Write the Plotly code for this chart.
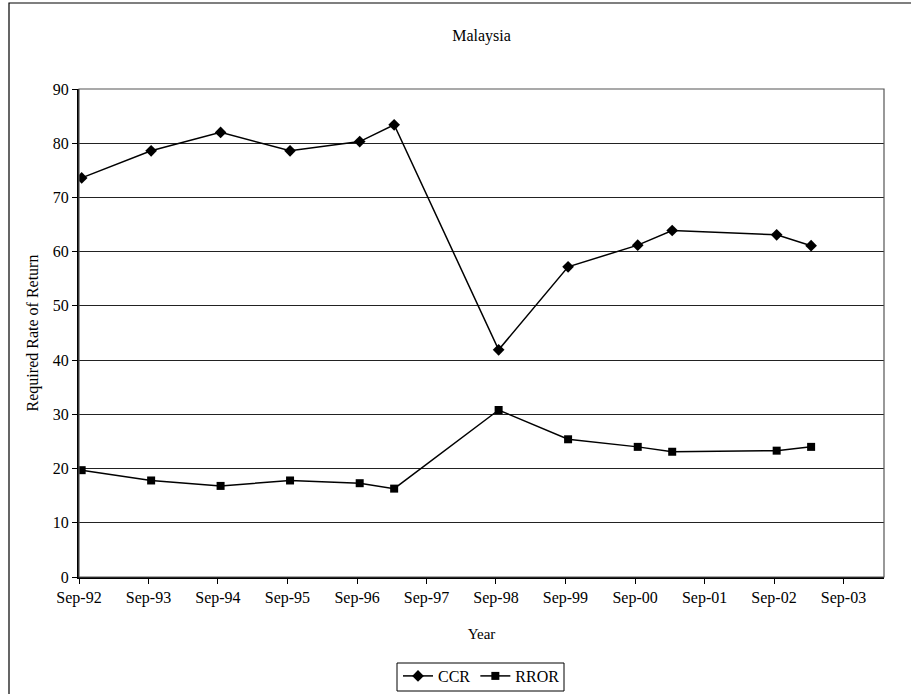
import plotly.graph_objects as go

# Observation dates (mid-month) and series values
dates = ["1992-09-15", "1993-09-15", "1994-09-15", "1995-09-15", "1996-09-15",
         "1997-03-15", "1998-09-15", "1999-09-15", "2000-09-15", "2001-03-15",
         "2002-09-15", "2003-03-15"]
ccr = [73.6, 78.6, 82.0, 78.6, 80.3, 83.4, 41.9, 57.2, 61.2, 63.9, 63.1, 61.1]
rror = [19.7, 17.8, 16.8, 17.8, 17.3, 16.3, 30.8, 25.4, 24.0, 23.1, 23.3, 24.0]

FONT = "Liberation Serif"

fig = go.Figure()
fig.add_trace(go.Scatter(
    x=dates, y=ccr, name="CCR", mode="lines+markers",
    line=dict(color="black", width=1.5),
    marker=dict(symbol="diamond", size=9, color="black"),
))
fig.add_trace(go.Scatter(
    x=dates, y=rror, name="RROR", mode="lines+markers",
    line=dict(color="black", width=1.5),
    marker=dict(symbol="square", size=8, color="black"),
))

# plot area in pixels: left 79, right 884, top 89, bottom 577
L, R, T, B = 79, 884, 89, 577
W, H = 911, 694
pw, ph = R - L, B - T


def px(x):
    return (x - L) / pw


def py(y):
    return (B - y) / ph


fig.update_layout(
    width=W, height=H,
    margin=dict(l=L, r=W - R, t=T, b=H - B, pad=0, autoexpand=False),
    paper_bgcolor="white", plot_bgcolor="white",
    font=dict(family=FONT, size=16, color="black"),
    title=dict(text="Malaysia", x=0.5, xref="paper", xanchor="center",
               y=1 - 35 / H, yanchor="middle",
               font=dict(family=FONT, size=16, color="black")),
    showlegend=True,
    legend=dict(orientation="h", x=0.5, xanchor="center",
                y=py(659), yanchor="top",
                borderwidth=0, bgcolor="rgba(0,0,0,0)",
                itemwidth=30, font=dict(family=FONT, size=16),
                tracegroupgap=0, valign="middle"),
    shapes=[
        # frame round the plot area
        dict(type="rect", xref="paper", yref="paper", x0=0, x1=1, y0=0, y1=1,
             line=dict(color="#555555", width=1.2), layer="above"),
        # border round the whole chart
        dict(type="rect", xref="paper", yref="paper",
             x0=px(9), x1=px(915), y0=py(700), y1=py(3),
             line=dict(color="black", width=1.2)),
        # box round the legend
        dict(type="rect", xref="paper", yref="paper",
             x0=px(397), x1=px(564), y0=py(691), y1=py(663),
             line=dict(color="black", width=1)),
    ],
)

fig.update_xaxes(
    type="date", automargin=False,
    range=["1992-09-01", "2004-04-01"],
    tick0="1992-09-01", dtick="M12", tickformat="%b-%y",
    ticks="outside", ticklen=5, tickwidth=1, tickcolor="black",
    showline=True, linecolor="black", linewidth=2,
    showgrid=False, zeroline=False,
    tickfont=dict(family=FONT, size=16),
    title=dict(text="Year", font=dict(family=FONT, size=15), standoff=22),
)
fig.update_yaxes(
    automargin=False,
    range=[0, 90], dtick=10,
    ticks="outside", ticklen=5, tickwidth=1, tickcolor="black",
    showline=True, linecolor="black", linewidth=2,
    showgrid=True, gridcolor="#222222", gridwidth=1, zeroline=False,
    tickfont=dict(family=FONT, size=16),
    title=dict(text="Required Rate of Return", font=dict(family=FONT, size=16),
               standoff=10),
)

fig.write_html("out.html")
